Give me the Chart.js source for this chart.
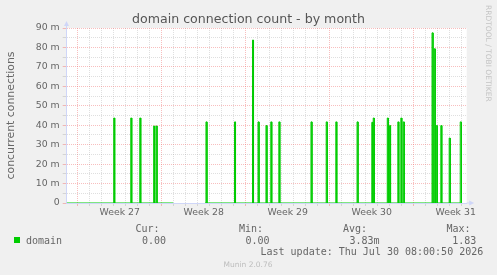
<!DOCTYPE html>
<html><head><meta charset="utf-8">
<script src="https://cdn.jsdelivr.net/npm/chart.js@4.4.1/dist/chart.umd.min.js"></script>
<style>html,body{margin:0;padding:0;background:#F0F0F0;overflow:hidden}canvas{display:block}</style>
</head><body>
<canvas id="c" width="497" height="275"></canvas>
<script>
// ---- text ----
const TITLE = 'domain connection count - by month';
const Y_TITLE = 'concurrent connections';
const SERIES_NAME = 'domain';
const LEGEND_HEADS = ['Cur:', 'Min:', 'Avg:', 'Max:'];
const LEGEND_VALUES = ['0.00', '0.00', '3.83m', '1.83'];
const LAST_UPDATE = 'Last update: Thu Jul 30 08:00:50 2026';
const WATERMARK = 'Munin 2.0.76';
const SIDE_MARK = 'RRDTOOL / TOBI OETIKER';

// ---- x axis (days; 0 = first week boundary shown) ----
const X_MIN = -0.917, X_MAX = 32.42;
const WEEK_STARTS = [0, 7, 14, 21, 28];
const WEEK_LABELS = ['Week 27', 'Week 28', 'Week 29', 'Week 30', 'Week 31'];
const DAY_LINES = [0,1,2,3,4,5,6,7,8,9,10,11,12,13,14,15,16,17,18,19,20,21,22,23,24,25,26,27,28,29,30,31,32];

// ---- y axis (connections) ----
const Y_MAX = 0.09;
const Y_GRID = [0,0.005,0.01,0.015,0.02,0.025,0.03,0.035,0.04,0.045,0.05,0.055,0.06,0.065,0.07,0.075,0.08,0.085,0.09];

// ---- data: spikes (start day, value in connections) ----
const spikeDays   = [3.00, 4.42, 5.17, 6.33, 6.53, 10.69, 13.07, 14.57, 15.03, 15.69, 16.09, 16.76, 19.44, 20.71, 21.51, 23.28, 24.51, 24.63, 25.80, 25.99, 26.68, 26.93, 27.13, 29.53, 29.71, 29.88, 30.26, 30.96, 31.88];
const spikeValues = [0.0437, 0.0437, 0.0437, 0.0396, 0.0396, 0.0417, 0.0417, 0.0838, 0.0417, 0.0398, 0.0417, 0.0417, 0.0417, 0.0417, 0.0417, 0.0417, 0.0415, 0.0437, 0.0437, 0.0398, 0.0417, 0.0437, 0.0417, 0.0875, 0.0793, 0.0398, 0.0398, 0.0334, 0.0417];
const SAMPLE = 1/12;          // one consolidated sample = 2 hours
const gapStart = [7.96];      // unknown data
const gapEnd   = [10.61];
const DATA_END = 32.0;

function buildSeries() {
  const pts = [{x: X_MIN, y: 0}];
  let g = 0;
  const flushGap = () => {
    pts.push({x: gapStart[g], y: 0}, {x: gapStart[g], y: null}, {x: gapEnd[g], y: 0});
    g++;
  };
  for (let i = 0; i < spikeDays.length; i++) {
    const d = spikeDays[i], v = spikeValues[i];
    while (g < gapStart.length && gapStart[g] < d) flushGap();
    pts.push({x: d, y: 0}, {x: d, y: v}, {x: d + SAMPLE, y: v}, {x: d + SAMPLE, y: 0});
  }
  while (g < gapStart.length) flushGap();
  pts.push({x: DATA_END, y: 0});
  return pts;
}

const FONT_COLOR = '#666666';
const AXIS_COLOR = '#CFD6F8';
const GRID_MINOR = 'rgba(140,140,140,0.28)';
const GRID_MAJOR = 'rgba(240,110,110,0.45)';
const GREEN = '#00CC00';
const labelAt = v => WEEK_STARTS.findIndex(w => Math.abs(w + 3.5 - v) < 1e-6);

const decor = {
  id: 'decor',
  beforeDraw(chart) {
    const {ctx, chartArea: a} = chart;
    ctx.save();
    ctx.fillStyle = '#FFFFFF';
    ctx.fillRect(a.left, a.top, a.right - a.left, a.bottom - a.top);
    ctx.restore();
  },
  afterDraw(chart) {
    const {ctx, chartArea: a} = chart;
    ctx.save();
    // axis arrows
    ctx.strokeStyle = AXIS_COLOR; ctx.fillStyle = AXIS_COLOR; ctx.lineWidth = 1;
    const ax = Math.floor(a.left) + 0.5;
    ctx.beginPath(); ctx.moveTo(ax, a.top); ctx.lineTo(ax, a.top - 3); ctx.stroke();
    ctx.beginPath(); ctx.moveTo(ax - 2.5, a.top - 2); ctx.lineTo(ax + 2.5, a.top - 2); ctx.lineTo(ax, a.top - 7); ctx.closePath(); ctx.fill();
    const ay = Math.round(a.bottom) + 0.5;
    ctx.beginPath(); ctx.moveTo(a.right, ay - 0.5); ctx.lineTo(a.right + 3, ay - 0.5); ctx.stroke();
    ctx.beginPath(); ctx.moveTo(a.right + 2.5, ay - 3); ctx.lineTo(a.right + 2.5, ay + 2); ctx.lineTo(a.right + 7.5, ay - 0.5); ctx.closePath(); ctx.fill();

    // legend
    ctx.fillStyle = GREEN;
    ctx.fillRect(14, 237, 6, 6);
    ctx.fillStyle = FONT_COLOR;
    ctx.font = '10px "DejaVu Sans Mono"';
    ctx.textBaseline = 'alphabetic';
    ctx.textAlign = 'left';
    const headX = [135.5, 239, 343, 446.5];
    const valX = [142, 245.5, 349.5, 452.3];
    LEGEND_HEADS.forEach((t, i) => ctx.fillText(t, headX[i], 232.3));
    ctx.fillText(SERIES_NAME, 26, 243.5);
    LEGEND_VALUES.forEach((t, i) => ctx.fillText(t, valX[i], 243.5));
    ctx.fillText(LAST_UPDATE, 260.5, 255);
    // watermark
    ctx.fillStyle = '#BDBDBD';
    ctx.font = '7.5px "DejaVu Sans"';
    ctx.textAlign = 'center';
    ctx.fillText(WATERMARK, 248, 266.7);
    // side mark
    ctx.fillStyle = '#C4C4C4';
    ctx.translate(485.5, 5);
    ctx.rotate(Math.PI / 2);
    ctx.textAlign = 'left';
    ctx.textBaseline = 'alphabetic';
    ctx.fillText(SIDE_MARK, 0, 0);
    ctx.restore();
  }
};

Chart.defaults.font.family = '"DejaVu Sans"';
Chart.defaults.color = FONT_COLOR;

new Chart(document.getElementById('c'), {
  type: 'line',
  data: {
    datasets: [{
      label: SERIES_NAME,
      data: buildSeries(),
      borderColor: GREEN,
      borderWidth: 1,
      pointRadius: 0,
      fill: false,
      tension: 0,
      spanGaps: false
    }]
  },
  options: {
    responsive: false,
    animation: false,
    devicePixelRatio: 1,
    layout: {padding: 0},
    plugins: {
      legend: {display: false},
      tooltip: {enabled: false},
      title: {
        display: true,
        text: TITLE,
        color: '#555555',
        font: {size: 12.6, weight: 'normal', lineHeight: 1},
        padding: {top: 13.4, bottom: 2}
      }
    },
    scales: {
      x: {
        type: 'linear',
        min: X_MIN,
        max: X_MAX,
        afterBuildTicks(scale) {
          const t = DAY_LINES.map(v => ({value: v}));
          WEEK_STARTS.forEach(w => t.push({value: w + 3.5}));
          t.sort((a, b) => a.value - b.value);
          scale.ticks = t;
        },
        afterFit(scale) { scale.height = 72; },
        ticks: {
          autoSkip: false,
          maxRotation: 0,
          padding: 1,
          font: {size: 9.33},
          color: FONT_COLOR,
          callback(v) { const i = labelAt(v); return i >= 0 ? WEEK_LABELS[i] : ''; }
        },
        grid: {
          color(ctx) {
            const v = ctx.tick ? ctx.tick.value : 0;
            if (labelAt(v) >= 0) return 'rgba(0,0,0,0)';
            return WEEK_STARTS.includes(v) ? GRID_MAJOR : GRID_MINOR;
          },
          lineWidth: 1,
          tickLength: 3,
          drawTicks: true
        },
        border: {display: true, color: AXIS_COLOR, dash: [1, 1]}
      },
      y: {
        type: 'linear',
        min: 0,
        max: Y_MAX,
        afterBuildTicks(scale) { scale.ticks = Y_GRID.map(v => ({value: v})); },
        afterFit(scale) { scale.width = 66.7; },
        ticks: {
          autoSkip: false,
          padding: 3,
          font: {size: 9.33},
          color: FONT_COLOR,
          callback(v) {
            const m = Math.round(v * 1000);
            if (m % 10 !== 0) return '';
            return m === 0 ? '0' : m + ' m';
          }
        },
        grid: {
          color(ctx) {
            const v = ctx.tick ? ctx.tick.value : 0;
            return Math.round(v * 1000) % 10 === 0 ? GRID_MAJOR : GRID_MINOR;
          },
          lineWidth: 1,
          tickLength: 4,
          drawTicks: true
        },
        border: {display: true, color: AXIS_COLOR, dash: [1, 1]},
        title: {
          display: true,
          text: Y_TITLE,
          color: FONT_COLOR,
          font: {size: 10.9},
          padding: {top: 4.5, bottom: 0}
        }
      },
      yRight: {
        type: 'linear',
        position: 'right',
        display: true,
        min: 0,
        max: Y_MAX,
        afterFit(scale) { scale.width = 30.3; },
        ticks: {display: false},
        grid: {display: false, drawOnChartArea: false},
        border: {display: false}
      }
    }
  },
  plugins: [decor]
});
</script>
</body></html>
